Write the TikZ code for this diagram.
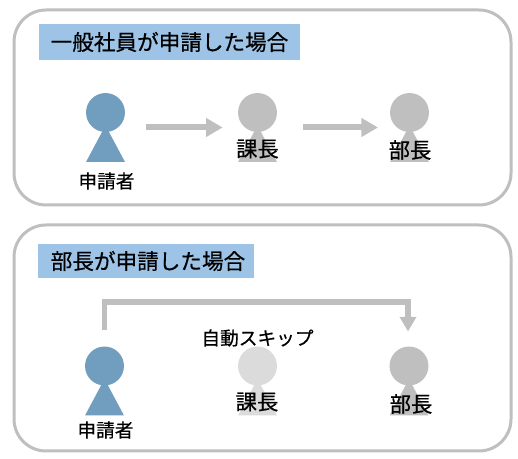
\documentclass[tikz,border=0pt]{standalone}
\usepackage{fontspec}
\setmainfont[FakeBold=0.5]{Noto Sans CJK JP}
\usetikzlibrary{arrows.meta}
\definecolor{frameg}{HTML}{BFBFBF}
\definecolor{headb}{HTML}{9DC3E6}
\definecolor{pblue}{HTML}{719EBF}
\definecolor{pgray}{HTML}{BFBFBF}
\definecolor{plight}{HTML}{DBDBDB}
\tikzset{
  panel/.style={draw=frameg,line width=2.25pt,fill=white,rounded corners=24pt},
  headbar/.style={fill=headb,inner sep=0pt,text=black,font=\fontsize{16.2}{16}\selectfont,anchor=center},
  personbox/.style={inner sep=0pt,outer sep=0pt,minimum width=29.25pt,minimum height=51.75pt},
  lab/.style={inner sep=0pt,font=\fontsize{16}{16}\selectfont},
  smalllab/.style={inner sep=0pt,font=\fontsize{14}{14}\selectfont},
  flowarrow/.style={draw=frameg,line width=4.5pt,-{Triangle[length=12.5pt,width=13.5pt]}},
  flowarrowb/.style={draw=frameg,line width=4pt,-{Triangle[length=11pt,width=12pt]}}
}
\newcommand{\person}[4]{%
  \node[personbox] (#1) at (#2,#3) {};
  \fill[#4] (#2,#3-15) circle[radius=14.6pt*1];
  \fill[#4] (#2,#3-2) -- (#2+19.5,#3+34.5) -- (#2-19.5,#3+34.5) -- cycle;
}
\begin{document}
\begin{tikzpicture}[x=0.75pt,y=-0.75pt]
\useasboundingbox (0,0) rectangle (518,459);
\fill[white] (0,0) rectangle (518,459);
% panels
\draw[panel] (14,10) rectangle (511,205);
\draw[panel] (14,225) rectangle (511,451);
% headings
\node[headbar,minimum width=195.75pt,minimum height=27pt] (h1) at (169.5,42) {一般社員が申請した場合};
\node[headbar,minimum width=162pt,minimum height=25.5pt] (h2) at (146,261) {\hspace*{3pt}部長が申請した場合};
% top row
\person{a1}{105.5}{127.5}{pblue}
\person{a2}{257.5}{127.5}{pgray}
\person{a3}{409.5}{127.5}{pgray}
\node[smalllab] (a1l) at (106.5,181) {申請者};
\node[lab] (a2l) at (257.5,149) {課長};
\node[lab] (a3l) at (410,150) {部長};
\draw[flowarrow,shorten <=15.75pt,shorten >=11.5pt] (a1.east) -- (a2.west);
\draw[flowarrow,shorten <=19.5pt,shorten >=9pt] (a2.east) -- (a3.west);
% bottom row
\person{b1}{104.5}{381}{pblue}
\person{b2}{257.5}{381}{plight}
\person{b3}{409}{381}{pgray}
\node[smalllab] (b1l) at (105.5,430) {申請者};
\node[lab] (b2l) at (257,402) {課長};
\node[lab] (b3l) at (411,404) {部長};
\node[smalllab] (skip) at (257.5,338) {自動スキップ};
\draw[flowarrowb,shorten <=12pt,shorten >=11.25pt] (b1.north) -- ++(0,-44.5) -| ([xshift=-0.75pt]b3.north);
\end{tikzpicture}
\end{document}
